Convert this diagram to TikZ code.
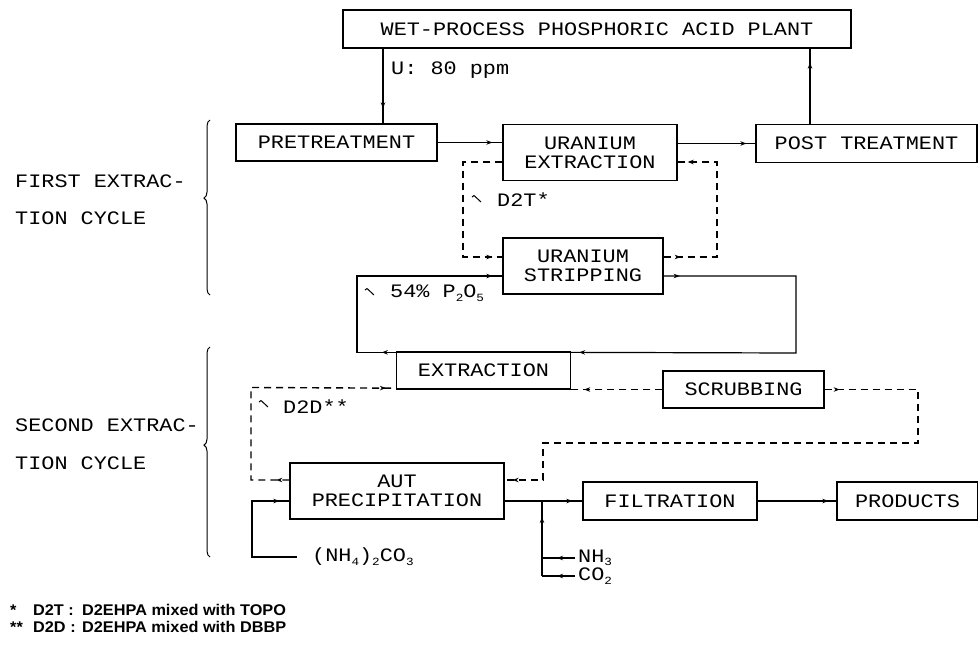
\documentclass[tikz,border=0pt]{standalone}
\usepackage{fontspec}
\newfontfamily\plotfont[FakeStretch=1.15]{Liberation Mono}
\newfontfamily\notefont[FakeStretch=1.05]{Liberation Sans}
\usetikzlibrary{arrows.meta,decorations.markings,decorations.pathreplacing}
\newcommand\lowsc[1]{\raisebox{-0.18em}{\fontsize{11}{11}\selectfont #1}}
\begin{document}
\begin{tikzpicture}[x=1pt,y=-1pt,
  txt/.style={font=\plotfont\fontsize{19}{19}\selectfont},
  box/.style={draw, line width=1.3pt, inner sep=0pt, txt, align=center},
  lbl/.style={inner sep=0pt, anchor=west, txt},
  conn/.style={line width=1.2pt},
  dsh/.style={line width=1.4pt, dash pattern=on 7pt off 5pt},
  tipat/.style={postaction={decorate,decoration={markings,mark=at position #1 with {\arrow{Stealth[length=6pt,width=4.5pt]}}}}},
  curly/.style={line width=1pt, decorate, decoration={brace, amplitude=6pt, aspect=#1}},
  note/.style={anchor=west, inner sep=0pt, font=\notefont\bfseries\fontsize{15.5}{15.5}\selectfont},
]
\fill[white] (0,0) rectangle (978,646);
\useasboundingbox (0,0) rectangle (978,646);

% boxes
\node[box, minimum width=508pt, minimum height=38pt] (wet) at (597,29) {WET-PROCESS PHOSPHORIC ACID PLANT};
\node[box, minimum width=201pt, minimum height=37pt] (pre) at (336.5,142.5) {PRETREATMENT};
\node[box, minimum width=174pt, minimum height=56pt] (uext) at (590,152.5) {URANIUM\\EXTRACTION};
\node[box, minimum width=221pt, minimum height=38pt] (post) at (866.5,143.5) {POST TREATMENT};
\node[box, minimum width=160pt, minimum height=56pt] (ustrip) at (583,266) {URANIUM\\STRIPPING};
\node[box, minimum width=174pt, minimum height=37pt] (extr) at (483.5,370.5) {EXTRACTION};
\node[box, minimum width=161pt, minimum height=37pt] (scrub) at (743.5,389.5) {SCRUBBING};
\node[box, minimum width=214pt, minimum height=56pt] (aut) at (397,491) {AUT\\PRECIPITATION};
\node[box, minimum width=174pt, minimum height=38pt] (filt) at (670,501) {FILTRATION};
\node[box, minimum width=141pt, minimum height=38pt] (prod) at (907.5,501) {PRODUCTS};

% labels
\node[lbl] (c1a) at (15,181) {FIRST EXTRAC-};
\node[lbl] (c1b) at (15,218) {TION CYCLE};
\node[lbl] (c2a) at (15,425) {SECOND EXTRAC-};
\node[lbl] (c2b) at (15,463) {TION CYCLE};
\node[lbl] (u80) at (391,70) {U: 80 ppm};
\node[lbl] (d2t) at (497,200) {D2T*};
\node[lbl] (p2o5) at (390,293) {54\% P\lowsc{2}O\lowsc{5}};
\node[lbl] (d2d) at (283,407) {D2D**};
\node[lbl] (amc) at (312,557) {(NH\lowsc{4})\lowsc{2}CO\lowsc{3}};
\node[lbl] (nh3) at (578,558) {NH\lowsc{3}};
\node[lbl] (co2) at (578,576) {CO\lowsc{2}};

% helper coordinates
\coordinate (cA) at (383,0);
\coordinate (cB) at (810,0);
\coordinate (cJ) at (542,0);
\coordinate (cR) at (918,443);
\coordinate (cL) at (251,387.5);

% solid connectors
\draw[conn,tipat=-15pt] (wet.south -| cA) -- (pre.north -| cA);
\draw[conn,tipat=-10pt] (pre.east) -- (uext.west |- pre.east);
\draw[conn,tipat=-9pt] (post.west -| uext.east) -- (post.west);
\draw[conn,tipat=-14pt] (post.north -| cB) -- (wet.south -| cB);
\draw[conn,tipat=16pt,tipat=-8pt] ([yshift=-10pt]ustrip.east) -| (796,353) -- ([yshift=-1pt]extr.north east);
\draw[conn,tipat=14pt,tipat=-10pt] ([yshift=-1pt]extr.north west) -| (357,276) -- ([yshift=-10pt]ustrip.west);
\draw[conn,tipat=-10pt] ([xshift=-15pt]amc.west) -| (252,501) -- ([yshift=-10pt]aut.west);
\draw[conn,tipat=-10pt] (aut.east |- filt.west) -- (filt.west);
\draw[conn,tipat=-8pt] (filt.east) -- (prod.west);
\draw[conn,tipat=-15pt] ([xshift=-3pt]nh3.west) -- (nh3.west -| cJ);
\draw[conn,tipat=-15pt] ([xshift=-3pt]co2.west) -- (co2.west -| cJ);
\draw[conn,tipat=-16pt] (co2.west -| cJ) -- (filt.west -| cJ);

% dashed connectors
\draw[dsh,tipat=-10pt] ([yshift=-9.5pt]uext.west) -| (463,257) -- ([yshift=9pt]ustrip.west);
\draw[dsh,tipat=17pt,tipat=-10pt] ([yshift=9pt]ustrip.east) -| (717,162) -- ([yshift=-9.5pt]uext.east);
\draw[dsh,tipat=-13pt] (scrub.west) -- (extr.south east |- scrub.west);
\draw[dsh,tipat=15pt,tipat=-8pt] (scrub.east) -| (cR) -- (543,443) |- ([yshift=11pt]aut.east);
\draw[dsh,tipat=13pt,tipat=-10pt] ([yshift=11pt]aut.west) -| (cL) -- ([yshift=1.5pt]extr.south west);

% tick marks before labels
\draw[line width=1pt] (472,197) -- (474,195.5) -- (481,202);
\draw[line width=1pt] (365,290) -- (367,288.5) -- (374,295);
\draw[line width=1pt] (259,402) -- (261,400.5) -- (268,407);

% braces
\draw[curly=0.554] (210,295) -- (210,120);
\draw[curly=0.533] (210,557) -- (210,347);

% footnotes
\node[note] (fn1) at (10,610)
  {\makebox[23pt][l]{*}\makebox[49pt][l]{D2T :}D2EHPA mixed with TOPO};
\node[note] (fn2) at (10,627)
  {\makebox[23pt][l]{**}\makebox[49pt][l]{D2D :}D2EHPA mixed with DBBP};
\end{tikzpicture}
\end{document}
